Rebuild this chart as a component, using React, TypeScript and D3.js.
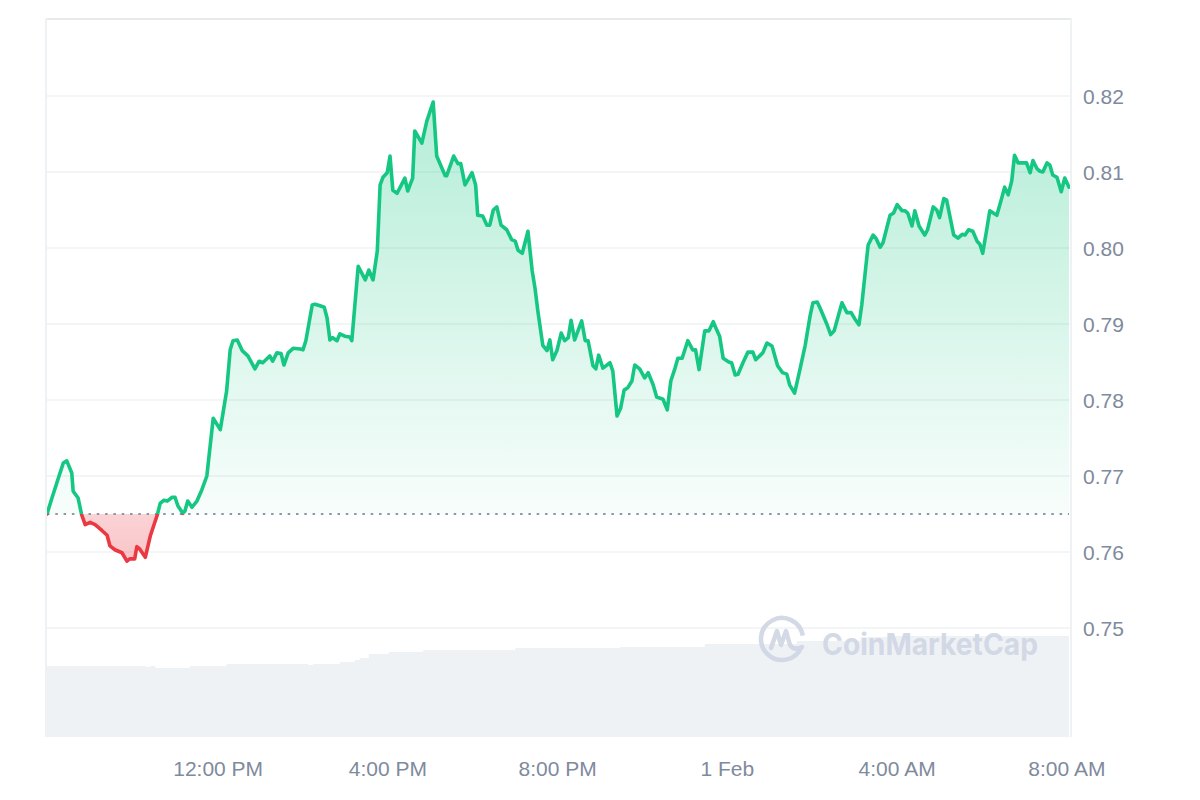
import React from "react";
import * as d3 from "d3";

// ---- Data ----
const startTime = new Date(2024, 0, 31, 7, 58); // Jan 31, 07:58
const referencePrice = 0.765; // opening price (dotted baseline)

const minutes = [
  0, 7, 16, 23, 28, 35, 37, 44, 49, 54,
  61, 68, 78, 85, 89, 96, 106, 113, 117, 124,
  127, 131, 139, 146, 156, 160, 165, 170, 177, 181,
  185, 192, 195, 199, 205, 212, 219, 226, 235, 245,
  254, 259, 263, 269, 276, 284, 294, 300, 305, 315,
  319, 325, 331, 335, 341, 348, 358, 362, 366, 375,
  379, 386, 392, 396, 400, 404, 410, 414, 421, 428,
  431, 440, 450, 455, 461, 467, 471, 475, 481, 485,
  489, 495, 506, 510, 517, 520, 530, 537, 546, 551,
  563, 565, 575, 581, 585, 591, 601, 606, 609, 616,
  622, 626, 631, 636, 642, 650, 657, 662, 666, 672,
  680, 686, 690, 694, 701, 707, 711, 715, 721, 727,
  732, 737, 741, 746, 756, 761, 765, 772, 776, 780,
  786, 796, 800, 806, 811, 816, 821, 827, 831, 838,
  845, 850, 857, 862, 871, 877, 882, 888, 892, 898,
  906, 913, 917, 922, 930, 936, 942, 947, 951, 956,
  964, 968, 973, 977, 984, 991, 998, 1002, 1012, 1018,
  1025, 1026, 1033, 1040, 1046, 1050, 1057, 1065, 1072, 1079,
  1083, 1089, 1093, 1103, 1108, 1113, 1124, 1131, 1137, 1142,
  1148, 1152, 1161, 1168, 1172, 1178, 1182, 1192, 1197, 1202,
  1209, 1213, 1217, 1223, 1227, 1233, 1241, 1245, 1253, 1258,
  1262, 1268, 1272, 1282, 1288, 1294, 1298, 1303, 1309, 1315,
  1319, 1323, 1329, 1333, 1343, 1350, 1354, 1359, 1364, 1368,
  1373, 1380, 1385, 1390, 1394, 1400, 1404, 1408, 1414, 1418,
  1422, 1428, 1434, 1439, 1445,
];

const prices = [
  0.7650, 0.7671, 0.7697, 0.7717, 0.7720, 0.7704, 0.7680, 0.7671, 0.7649, 0.7636,
  0.7639, 0.7636, 0.7628, 0.7622, 0.7608, 0.7603, 0.7599, 0.7588, 0.7591, 0.7591,
  0.7607, 0.7604, 0.7593, 0.7621, 0.7649, 0.7664, 0.7668, 0.7667, 0.7672, 0.7672,
  0.7661, 0.7651, 0.7654, 0.7667, 0.7659, 0.7667, 0.7682, 0.7700, 0.7776, 0.7761,
  0.7812, 0.7866, 0.7878, 0.7879, 0.7865, 0.7858, 0.7841, 0.7851, 0.7849, 0.7858,
  0.7851, 0.7862, 0.7861, 0.7846, 0.7862, 0.7868, 0.7867, 0.7866, 0.7878, 0.7925,
  0.7926, 0.7924, 0.7922, 0.7908, 0.7879, 0.7882, 0.7878, 0.7887, 0.7884, 0.7883,
  0.7878, 0.7976, 0.7958, 0.7971, 0.7958, 0.7996, 0.8083, 0.8093, 0.8099, 0.8121,
  0.8076, 0.8072, 0.8092, 0.8075, 0.8092, 0.8154, 0.8138, 0.8167, 0.8192, 0.8121,
  0.8095, 0.8095, 0.8121, 0.8111, 0.8111, 0.8083, 0.8099, 0.8083, 0.8043, 0.8042,
  0.8030, 0.8030, 0.8050, 0.8054, 0.8030, 0.8024, 0.8011, 0.8009, 0.7997, 0.7993,
  0.8022, 0.7970, 0.7947, 0.7917, 0.7872, 0.7865, 0.7879, 0.7853, 0.7865, 0.7888,
  0.7878, 0.7882, 0.7905, 0.7879, 0.7904, 0.7878, 0.7878, 0.7845, 0.7841, 0.7859,
  0.7842, 0.7849, 0.7838, 0.7779, 0.7789, 0.7813, 0.7816, 0.7825, 0.7846, 0.7841,
  0.7829, 0.7836, 0.7820, 0.7804, 0.7801, 0.7787, 0.7825, 0.7842, 0.7855, 0.7855,
  0.7878, 0.7866, 0.7866, 0.7840, 0.7891, 0.7891, 0.7903, 0.7892, 0.7884, 0.7855,
  0.7850, 0.7849, 0.7833, 0.7834, 0.7849, 0.7863, 0.7863, 0.7853, 0.7862, 0.7875,
  0.7871, 0.7868, 0.7845, 0.7836, 0.7834, 0.7820, 0.7809, 0.7842, 0.7872, 0.7911,
  0.7928, 0.7929, 0.7921, 0.7899, 0.7886, 0.7891, 0.7928, 0.7915, 0.7915, 0.7907,
  0.7899, 0.7925, 0.8004, 0.8017, 0.8013, 0.8001, 0.8007, 0.8043, 0.8046, 0.8057,
  0.8049, 0.8049, 0.8046, 0.8029, 0.8049, 0.8029, 0.8017, 0.8024, 0.8054, 0.8050,
  0.8040, 0.8065, 0.8063, 0.8017, 0.8013, 0.8018, 0.8017, 0.8024, 0.8022, 0.8009,
  0.8005, 0.7993, 0.8026, 0.8049, 0.8043, 0.8066, 0.8080, 0.8070, 0.8088, 0.8122,
  0.8112, 0.8112, 0.8112, 0.8099, 0.8115, 0.8104, 0.8101, 0.8100, 0.8112, 0.8109,
  0.8096, 0.8093, 0.8074, 0.8092, 0.8080,
];

// Volume (arbitrary units, step series)
const volumeMinutes = [0, 140, 146, 153, 202, 254, 369, 376, 414, 435, 442, 455, 483, 532, 662, 810, 930, 1060, 1150, 1200, 1445];
const volumes = [71, 70, 71, 69, 71, 73, 72, 73, 75, 77, 79, 83, 85, 87, 89, 90, 93, 96, 100, 101, 101];

const yTicks = [0.75, 0.76, 0.77, 0.78, 0.79, 0.8, 0.81, 0.82];
const xTickMinutes = [242, 482, 722, 962, 1202, 1442];
const xTickLabels = ["12:00 PM", "4:00 PM", "8:00 PM", "1 Feb", "4:00 AM", "8:00 AM"];

const toDate = (m: number) => new Date(startTime.getTime() + m * 60000);

export default function App() {
  const W = 1200, H = 800;
  const left = 47, right = 1069, frameRight = 1071, top = 19, bottom = 737;

  const x = d3.scaleTime().domain([toDate(0), toDate(1445)]).range([left, right]);
  const y = d3.scaleLinear().domain([0.73566, 0.83013]).range([bottom, top]);
  const yv = d3.scaleLinear().domain([0, 120]).range([bottom, bottom - 120]);

  const data = minutes.map((m, i) => ({ t: toDate(m), p: prices[i] }));
  const vdata = volumeMinutes.map((m, i) => ({ t: toDate(m), v: volumes[i] }));

  const baseY = y(referencePrice);

  const line = d3.line<any>().x(d => x(d.t)).y(d => y(d.p));
  const area = d3.area<any>().x(d => x(d.t)).y0(baseY).y1(d => y(d.p));
  const vArea = d3.area<any>().x(d => x(d.t)).y0(bottom).y1(d => yv(d.v)).curve(d3.curveStepAfter);

  const axisColor = "#808a9d";
  const font = "'Liberation Sans', Arial, Helvetica, sans-serif";

  // watermark logo geometry
  const cx = 782, cy = 639, r = 21;
  const arc = d3.arc()({ innerRadius: r, outerRadius: r, startAngle: Math.PI * 0.62, endAngle: Math.PI * 2.45 } as any);

  return (
    <svg width={W} height={H} style={{ position: "absolute", left: 0, top: 0, background: "#fff" }}>
      <defs>
        <linearGradient id="gUp" gradientUnits="userSpaceOnUse" x1="0" x2="0" y1={y(0.8192)} y2={baseY}>
          <stop offset="0" stopColor="#16c784" stopOpacity={0.32} />
          <stop offset="1" stopColor="#16c784" stopOpacity={0.03} />
        </linearGradient>
        <linearGradient id="gDown" gradientUnits="userSpaceOnUse" x1="0" x2="0" y1={baseY} y2={y(0.7588)}>
          <stop offset="0" stopColor="#ea3943" stopOpacity={0.22} />
          <stop offset="1" stopColor="#ea3943" stopOpacity={0.3} />
        </linearGradient>
        <clipPath id="clipUp">
          <rect x={0} y={0} width={W} height={baseY} />
        </clipPath>
        <clipPath id="clipDown">
          <rect x={0} y={baseY} width={W} height={H - baseY} />
        </clipPath>
      </defs>

      {/* gridlines */}
      {yTicks.map(v => (
        <line key={v} x1={left} x2={frameRight} y1={y(v)} y2={y(v)} stroke="#eff2f5" strokeWidth={1.5} />
      ))}
      <line x1={left} x2={frameRight} y1={top} y2={top} stroke="#e6eae9" strokeWidth={2} />

      {/* volume */}
      <path d={vArea(vdata) || ""} fill="#eff2f5" />

      {/* watermark */}
      <g opacity={0.9}>
        <path d={arc || ""} transform={`translate(${cx},${cy})`} fill="none" stroke="#cfd6e4" strokeWidth={4.5} strokeLinecap="round" />
        <path
          d={`M${cx - 11},${cy + 9} L${cx - 5},${cy - 8} L${cx - 1},${cy + 6} L${cx + 4},${cy - 8} L${cx + 8},${cy + 6} Q${cx + 12},${cy + 12} ${cx + 20},${cy + 8}`}
          fill="none" stroke="#cfd6e4" strokeWidth={4.5} strokeLinecap="round" strokeLinejoin="round" />
        <text x={822} y={655} fontFamily="Inter, 'Noto Sans', sans-serif" fontWeight={700} fontSize={30}
          fill="#cfd6e4" textLength={216} lengthAdjust="spacingAndGlyphs">CoinMarketCap</text>
      </g>

      {/* price areas */}
      <path d={area(data) || ""} fill="url(#gUp)" clipPath="url(#clipUp)" />
      <path d={area(data) || ""} fill="url(#gDown)" clipPath="url(#clipDown)" />

      {/* baseline */}
      <line x1={left} x2={right} y1={baseY} y2={baseY} stroke="#8f96a5" strokeWidth={2} strokeDasharray="2.5 5.8" />

      {/* price lines */}
      <path d={line(data) || ""} fill="none" stroke="#16c784" strokeWidth={3.6} strokeLinejoin="round" strokeLinecap="round" clipPath="url(#clipUp)" />
      <path d={line(data) || ""} fill="none" stroke="#ea3943" strokeWidth={3.6} strokeLinejoin="round" strokeLinecap="round" clipPath="url(#clipDown)" />

      {/* frame */}
      <line x1={46} x2={46} y1={top - 1} y2={bottom} stroke="#eff2f5" strokeWidth={2} />
      <line x1={frameRight} x2={frameRight} y1={top - 1} y2={bottom} stroke="#eff2f5" strokeWidth={2} />

      {/* y labels */}
      {yTicks.map(v => (
        <text key={v} x={1083} y={y(v) + 8} fontFamily={font} fontSize={21} fill={axisColor}>{v.toFixed(2)}</text>
      ))}

      {/* x labels */}
      {xTickMinutes.map((m, i) => (
        <text key={m} x={x(toDate(m))} y={776} textAnchor="middle" fontFamily={font} fontSize={21} fill={axisColor}>{xTickLabels[i]}</text>
      ))}
    </svg>
  );
}
